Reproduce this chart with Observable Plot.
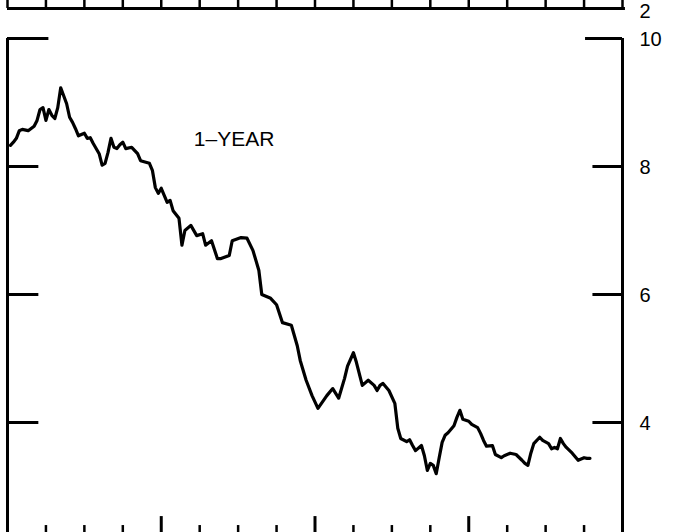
<!DOCTYPE html>
<html><head><meta charset="utf-8">
<script src="https://cdn.jsdelivr.net/npm/d3@7"></script>
<script src="https://cdn.jsdelivr.net/npm/@observablehq/plot@0.6"></script>
<style>
html,body{margin:0;padding:0;background:#fff;overflow:hidden}
#chart svg{display:block}
</style></head><body><div id="chart"></div>
<script>
// Weekly observations (week number from start of the 4-year window) and 1-year yields (%)
const weeks = [1,2,3,4,5,7,9,10,11,12,13,14,15,16,17,18,20,21,22,23,24,26,27,28,29,31,32,33,34,35,36,37,38,39,40,42,44,45,48,49,50,51,52,53,54,55,56,58,
  59,60,62,64,66,67,69,71,72,75,76,79,81,83,85,86,89,91,93,96,98,99,101,103,105,108,110,112,114,115,117,118,120,122,124,125,126,127,129,131,132,133,135,136,137,138,140,141,142,143,144,145,146,147,148,149,151,152,153,154,156,157,159,160,161,162,164,165,167,168,170,172,174,175,176,177,178,180,181,183,184,185,186,187,188,189,191,193,195,196,197];
const yields = [8.33,8.38,8.44,8.56,8.58,8.56,8.63,8.72,8.89,8.92,8.72,8.89,8.80,8.75,8.92,9.23,8.98,8.77,8.69,8.59,8.48,8.52,8.44,8.45,8.36,8.20,8.02,8.05,8.22,8.44,8.30,8.28,8.34,8.38,8.28,8.30,8.20,8.09,8.05,7.94,7.67,7.58,7.66,7.55,7.44,7.47,7.31,7.19,
  6.77,7.00,7.08,6.92,6.95,6.77,6.84,6.56,6.56,6.61,6.84,6.89,6.88,6.69,6.38,6.00,5.94,5.84,5.56,5.52,5.20,4.97,4.66,4.42,4.22,4.42,4.53,4.38,4.69,4.88,5.09,4.94,4.58,4.66,4.58,4.50,4.58,4.61,4.50,4.30,3.91,3.75,3.70,3.73,3.64,3.56,3.64,3.48,3.25,3.36,3.33,3.20,3.45,3.69,3.80,3.84,3.95,4.08,4.19,4.05,4.02,3.97,3.92,3.83,3.72,3.63,3.64,3.50,3.45,3.48,3.52,3.50,3.41,3.36,3.33,3.52,3.67,3.77,3.72,3.67,3.59,3.61,3.59,3.75,3.67,3.61,3.52,3.41,3.45,3.44,3.44];

const yTickValues = [10, 8, 6, 4];
const yTickLabels = ["10", "8", "6", "4"];
const quarterTicks = [13, 26, 39, 65, 78, 91, 117, 130, 143, 169, 182, 195];
const yearTicks = [52, 104, 156];
const upperQuarterTicks = [0, 13, 26, 39, 52, 65, 78, 91, 104, 117, 130, 143, 156, 169, 182, 195, 208];
const seriesLabel = "1–YEAR";
const upperPanelLabel = "2";

const data = weeks.map((w, i) => ({week: w, value: yields[i]}));
const font = "'Liberation Sans', Arial, Helvetica, sans-serif";
const xScale = {domain: [0, 208], range: [7, 622], axis: null};

// Bottom edge of the panel above (its "2" gridline)
const upper = Plot.plot({
  width: 693, height: 22, margin: 0,
  style: {fontFamily: font, background: "#fff"},
  x: xScale,
  y: {domain: [2, 10], range: [8, -504], axis: null},
  marks: [
    Plot.ruleY([2], {x1: 0, x2: 209, strokeWidth: 3}),
    Plot.ruleX(upperQuarterTicks, {x: d => d, y1: 2, y2: 2.5, strokeWidth: 2.5}),
    Plot.text([upperPanelLabel], {x: 208, y: 2, text: d => d, dx: 17, dy: 3, textAnchor: "start", fontSize: 20, fill: "#000"})
  ]
});

const main = Plot.plot({
  width: 693, height: 510, margin: 0,
  style: {fontFamily: font, background: "#fff"},
  x: xScale,
  y: {domain: [2, 10], range: [528, 16], axis: null},
  marks: [
    Plot.ruleX([0, 208], {y1: 2, y2: 10, strokeWidth: 3}),
    Plot.ruleY([2], {x1: 0, x2: 208, strokeWidth: 3}),
    // corner bars at 10
    Plot.ruleY([10], {x1: 0, x2: 14, strokeWidth: 3}),
    Plot.ruleY([10], {x1: 195.5, x2: 208, strokeWidth: 3}),
    // inner ticks
    Plot.ruleY(yTickValues.slice(1), {y: d => d, x1: 0, x2: 10.6, strokeWidth: 3}),
    Plot.ruleY(yTickValues.slice(1), {y: d => d, x1: 198, x2: 208, strokeWidth: 3}),
    // bottom quarter / year ticks
    Plot.ruleX(quarterTicks, {x: d => d, y1: 2, y2: 2.39, strokeWidth: 2.5}),
    Plot.ruleX(yearTicks, {x: d => d, y1: 2, y2: 2.53, strokeWidth: 3}),
    // labels
    Plot.text(yTickValues, {x: 208, y: d => d, text: (d, i) => yTickLabels[i], dx: 17, dy: 1, textAnchor: "start", fontSize: 20, fill: "#000"}),
    Plot.text([seriesLabel], {x: 63, y: 8.42, text: d => d, textAnchor: "start", fontSize: 21, fill: "#000"}),
    // series
    Plot.line(data, {x: "week", y: "value", stroke: "#000", strokeWidth: 3.2, strokeLinejoin: "round", strokeLinecap: "round"})
  ]
});

document.getElementById("chart").append(upper, main);
</script>
</body></html>
